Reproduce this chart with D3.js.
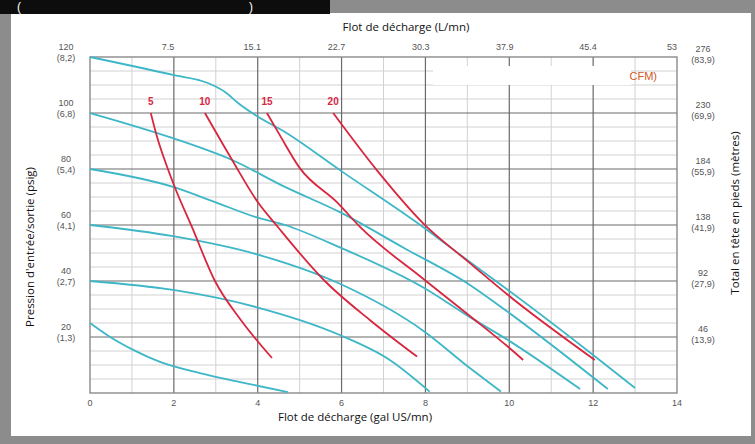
<!DOCTYPE html>
<html lang="fr">
<head>
    <meta charset="utf-8">
    <title>Courbe de performance</title>
    <script src="https://cdn.jsdelivr.net/npm/d3@7"></script>
    <style type="text/css">
        body { margin: 0; background: #fff; }
        text { font-family: "Liberation Sans", Arial, sans-serif; }
        .title { font-family: "Open Sans", sans-serif; fill: #111; }
    </style>
</head>
<body>
<script type="text/javascript">

    // bottom axis (gal US/mn) and top axis (L/mn)
    var flowTicks = [0, 2, 4, 6, 8, 10, 12, 14];
    var lpmTicks = [7.5, 15.1, 22.7, 30.3, 37.9, 45.4, 53];

    // left axis: psig with bar in brackets
    var psiTicks = [120, 100, 80, 60, 40, 20];
    var barLabels = ["(8,2)", "(6,8)", "(5,4)", "(4,1)", "(2,7)", "(1,3)"];

    // right axis: feet with metres in brackets
    var feetTicks = [276, 230, 184, 138, 92, 46];
    var metreLabels = ["(83,9)", "(69,9)", "(55,9)", "(41,9)", "(27,9)", "(13,9)"];

    // air inlet pressure curves [gpm, psig]
    var air120 = [[0, 120], [1.98, 113.6], [2.81, 110.7], [3.22, 107.5], [3.53, 103.6], [3.94, 99.3], [4.65, 93.2],
        [5.96, 79.6], [7.94, 59.3], [9.06, 46.8], [9.97, 36.8], [12.0, 13.6], [13.0, 1.8]];
    var air100 = [[0, 100], [1.98, 91], [3.39, 83.2], [4.65, 73.6], [5.96, 64.6], [7.5, 51.7], [9.06, 38.6],
        [9.97, 28.9], [12.35, 1.4]];
    var air80 = [[0, 80], [1.98, 73.6], [2.98, 68.2], [3.94, 62.9], [4.65, 60], [5.96, 52], [7.97, 37.5],
        [9.06, 27.1], [9.97, 18.9], [11.69, 1.4]];
    var air60 = [[0, 60], [1.98, 56], [3.96, 49.6], [5.96, 39], [7.97, 22], [9.06, 8.9], [9.8, 0.5]];
    var air40 = [[0, 40], [1.98, 36.8], [3.96, 30.7], [5.96, 20.7], [7.15, 11.8], [8.1, 0.5]];
    var air20 = [[0, 25], [0.48, 20], [1.03, 15.4], [1.67, 11.1], [2.62, 7.1], [3.58, 3.9], [4.72, 0.3]];

    // air consumption curves (SCFM) [gpm, psig]
    var scfmLabels = ["5", "10", "15", "20"];
    var scfm5 = [[1.45, 100], [1.6, 91.4], [1.84, 80.7], [2.03, 73.2], [2.43, 59.3], [2.98, 40], [3.58, 26.4], [4.34, 12.5]];
    var scfm10 = [[2.74, 100], [3.39, 83.2], [4.0, 68.2], [4.48, 59.3], [5.6, 40], [6.68, 26], [7.8, 13]];
    var scfm15 = [[4.22, 100], [4.53, 92], [5.0, 80.4], [5.9, 68], [6.44, 59.3], [7.93, 41], [9.06, 27.5], [9.97, 16.5], [10.33, 11.8]];
    var scfm20 = [[5.8, 100], [6.84, 79.6], [7.94, 60.7], [9.06, 46.4], [9.97, 35], [12.04, 11.8]];

    var width = 755, height = 444;
    var cyan = "#3db7c7", red = "#d8263f";

    var svg = d3.select("body")
        .append("svg")
        .attr("width", width)
        .attr("height", height);

    // frame
    svg.append("rect").attr("width", width).attr("height", height).attr("fill", "#8c8c8c");
    svg.append("rect").attr("x", 11).attr("y", 13).attr("width", width - 15).attr("height", 423).attr("fill", "#fff");
    svg.append("rect").attr("x", 0).attr("y", 0).attr("width", 330).attr("height", 14).attr("fill", "#0d0d0d");
    svg.append("text").attr("x", 17).attr("y", 11).attr("fill", "#fff").attr("font-size", 12).text("(");
    svg.append("text").attr("x", 249).attr("y", 11).attr("fill", "#fff").attr("font-size", 12).text(")");

    var x = d3.scaleLinear().domain([0, 14]).range([90, 677]);
    var y = d3.scaleLinear().domain([0, 120]).range([393, 57]);
    var xL = d3.scaleLinear().domain([0, 14 * 3.785]).range([90, 677]);
    var yFt = d3.scaleLinear().domain([0, 120 * 2.3]).range([393, 57]);

    // grid
    var grid = svg.append("g");
    grid.selectAll(".vminor")
        .data(d3.range(1, 14, 2))
        .enter().append("line")
        .attr("x1", function (d) { return x(d); }).attr("x2", function (d) { return x(d); })
        .attr("y1", y(0)).attr("y2", y(120))
        .attr("stroke", "#d2d2d2").attr("stroke-width", 1);
    grid.selectAll(".hminor")
        .data(d3.range(5, 120, 5).filter(function (d) { return d % 20 !== 0; }))
        .enter().append("line")
        .attr("x1", x(0)).attr("x2", x(14))
        .attr("y1", function (d) { return y(d); }).attr("y2", function (d) { return y(d); })
        .attr("stroke", "#d2d2d2").attr("stroke-width", 1);
    grid.selectAll(".vmajor")
        .data(flowTicks.slice(1, -1))
        .enter().append("line")
        .attr("x1", function (d) { return x(d); }).attr("x2", function (d) { return x(d); })
        .attr("y1", y(0)).attr("y2", y(120))
        .attr("stroke", "#6a6a6a").attr("stroke-width", 1.2);
    grid.selectAll(".hmajor")
        .data(psiTicks.slice(1))
        .enter().append("line")
        .attr("x1", x(0)).attr("x2", x(14))
        .attr("y1", function (d) { return y(d); }).attr("y2", function (d) { return y(d); })
        .attr("stroke", "#6a6a6a").attr("stroke-width", 1.2);
    svg.append("rect")
        .attr("x", x(0)).attr("y", y(120))
        .attr("width", x(14) - x(0)).attr("height", y(0) - y(120))
        .attr("fill", "none").attr("stroke", "#8a8a8a").attr("stroke-width", 1.4);

    // legend box (partly covered)
    svg.append("rect").attr("x", 433).attr("y", 66).attr("width", 198).attr("height", 19).attr("fill", "#fff");
    svg.append("text")
        .attr("x", 657).attr("y", 80)
        .attr("text-anchor", "end")
        .attr("font-family", "Open Sans")
        .attr("font-size", 11)
        .attr("fill", "#d2561f")
        .text("CFM)");

    // curves
    var line = d3.line()
        .x(function (d) { return x(d[0]); })
        .y(function (d) { return y(d[1]); })
        .curve(d3.curveMonotoneX);

    var airCurves = [air120, air100, air80, air60, air40, air20];
    svg.selectAll(".air")
        .data(airCurves)
        .enter().append("path")
        .attr("class", "air")
        .attr("d", line)
        .attr("fill", "none")
        .attr("stroke", cyan)
        .attr("stroke-width", 1.8);

    var scfmCurves = [scfm5, scfm10, scfm15, scfm20];
    svg.selectAll(".scfm")
        .data(scfmCurves)
        .enter().append("path")
        .attr("class", "scfm")
        .attr("d", line)
        .attr("fill", "none")
        .attr("stroke", red)
        .attr("stroke-width", 1.8);

    svg.selectAll(".scfmLabel")
        .data(scfmCurves)
        .enter().append("text")
        .attr("x", function (d) { return x(d[0][0]); })
        .attr("y", function (d) { return y(d[0][1]) - 8; })
        .attr("text-anchor", "middle")
        .attr("font-size", 10)
        .attr("font-weight", "bold")
        .attr("fill", red)
        .text(function (d, i) { return scfmLabels[i]; });

    // bottom axis labels
    svg.selectAll(".xLabel")
        .data(flowTicks)
        .enter().append("text")
        .attr("x", function (d) { return x(d); })
        .attr("y", 406)
        .attr("text-anchor", "middle")
        .attr("font-size", 9)
        .attr("fill", "#555")
        .text(function (d) { return d; });

    // top axis labels
    svg.selectAll(".lpmLabel")
        .data(lpmTicks)
        .enter().append("text")
        .attr("x", function (d) { return xL(d) - 5; })
        .attr("y", 50)
        .attr("text-anchor", "middle")
        .attr("font-size", 9)
        .attr("fill", "#555")
        .text(function (d) { return d; });

    // left axis labels
    var left = svg.selectAll(".psiLabel")
        .data(psiTicks)
        .enter().append("g");
    left.append("text")
        .attr("x", 66).attr("y", function (d) { return y(d) - 7; })
        .attr("text-anchor", "middle").attr("font-size", 9).attr("fill", "#555")
        .text(function (d) { return d; });
    left.append("text")
        .attr("x", 66).attr("y", function (d) { return y(d) + 4; })
        .attr("text-anchor", "middle").attr("font-size", 9).attr("fill", "#555")
        .text(function (d, i) { return barLabels[i]; });

    // right axis labels
    var right = svg.selectAll(".ftLabel")
        .data(feetTicks)
        .enter().append("g");
    right.append("text")
        .attr("x", 703).attr("y", function (d) { return yFt(d) - 5; })
        .attr("text-anchor", "middle").attr("font-size", 9).attr("fill", "#555")
        .text(function (d) { return d; });
    right.append("text")
        .attr("x", 703).attr("y", function (d) { return yFt(d) + 6; })
        .attr("text-anchor", "middle").attr("font-size", 9).attr("fill", "#555")
        .text(function (d, i) { return metreLabels[i]; });

    // axis titles
    svg.append("text")
        .attr("class", "title")
        .attr("x", 406).attr("y", 31)
        .attr("text-anchor", "middle").attr("font-size", 11.5)
        .text("Flot de décharge (L/mn)");
    svg.append("text")
        .attr("class", "title")
        .attr("x", 355).attr("y", 421)
        .attr("text-anchor", "middle").attr("font-size", 11.5)
        .text("Flot de décharge (gal US/mn)");
    svg.append("text")
        .attr("class", "title")
        .attr("transform", "translate(34,247) rotate(-90)")
        .attr("text-anchor", "middle").attr("font-size", 11.5)
        .text("Pression d'entrée/sortie (psig)");
    svg.append("text")
        .attr("class", "title")
        .attr("transform", "translate(739,213) rotate(-90)")
        .attr("text-anchor", "middle").attr("font-size", 11.5)
        .text("Total en tête en pieds (mètres)");

</script>
</body>
</html>
